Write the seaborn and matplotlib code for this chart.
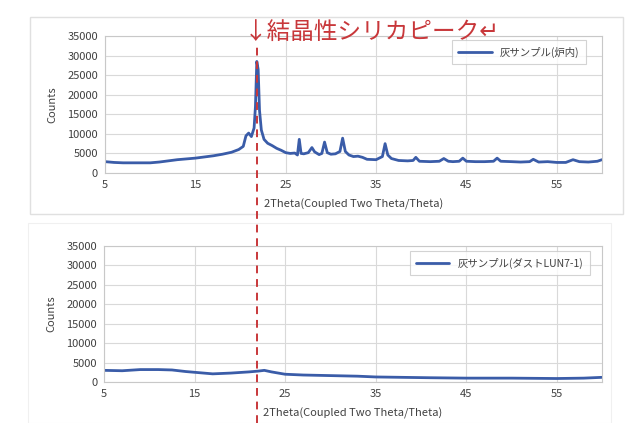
import numpy as np
import pandas as pd
import matplotlib
matplotlib.use("Agg")
import matplotlib.pyplot as plt
import matplotlib.ticker as mticker
from matplotlib.patches import Rectangle
from matplotlib.lines import Line2D
import seaborn as sns

# top pattern: ash sample (furnace inside)
top_x = [5, 6, 7, 8, 9, 10, 11, 12, 13, 14,
         15, 16, 17, 18, 19, 19.8, 20.3, 20.6, 20.9, 21.2,
         21.5, 21.65, 21.8, 21.95, 22.1, 22.3, 22.6, 23, 23.5, 24,
         24.5, 25, 25.5, 26, 26.3, 26.5, 26.7, 27, 27.5, 27.9,
         28.2, 28.7, 29.0, 29.3, 29.6, 30, 30.5, 31.0, 31.3, 31.6,
         32, 32.5, 33, 33.5, 34, 35, 35.7, 36.0, 36.3, 36.7,
         37.5, 38.5, 39.1, 39.4, 39.8, 41, 42, 42.5, 43, 43.5,
         44.2, 44.6, 45, 46, 47, 48, 48.4, 48.8, 50, 51,
         52, 52.4, 53, 54, 55, 56, 56.8, 57.5, 58.5, 59.5,
         60]
top_y = [2900, 2700, 2600, 2600, 2600, 2600, 2800, 3100, 3400, 3600,
         3800, 4100, 4400, 4800, 5300, 6000, 6800, 9500, 10200, 9300,
         11500, 17000, 28500, 26500, 16000, 11000, 8600, 7600, 7000, 6300,
         5800, 5200, 5000, 5100, 4600, 8600, 5000, 4900, 5200, 6500,
         5400, 4700, 5000, 7900, 5200, 4800, 4900, 5500, 8900, 5500,
         4600, 4200, 4300, 4000, 3500, 3400, 4200, 7500, 4600, 3700,
         3200, 3100, 3200, 4000, 3000, 2900, 3000, 3700, 3000, 2900,
         3000, 3800, 3000, 2900, 2900, 3000, 3800, 3000, 2900, 2800,
         2900, 3500, 2800, 2900, 2700, 2700, 3400, 2900, 2800, 3000,
         3400]

# bottom pattern: ash sample (dust LUN7-1)
bot_x = [5, 7, 9, 11, 12.5, 14, 15.5, 17, 19, 21,
         22, 22.7, 23.5, 25, 27, 29, 31, 33, 35, 38,
         41, 45, 50, 55, 58, 60]
bot_y = [3000, 2900, 3200, 3200, 3100, 2700, 2400, 2100, 2300, 2600,
         2800, 3000, 2600, 2000, 1800, 1700, 1600, 1500, 1300, 1200,
         1100, 1000, 1000, 900, 1000, 1200]

top_label = "灰サンプル(炉内)"
bot_label = "灰サンプル(ダストLUN7-1)"
x_ticks = [5, 15, 25, 35, 45, 55]
y_ticks = [0, 5000, 10000, 15000, 20000, 25000, 30000, 35000]
silica_x = 21.8
note = "↓結晶性シリカピーク↵"

LINE = "#3a5ca8"
RED = "#c8373a"
GRID = "#d9d9d9"
TXT = "#404040"

sns.set_style("white")
plt.rcParams["font.family"] = ["Noto Sans CJK JP", "DejaVu Sans"]

fig = plt.figure(figsize=(6.27, 4.23), dpi=100)

# excel-like chart area frames
fig.patches.append(Rectangle((0.048, 0.494), 0.946, 0.466, transform=fig.transFigure,
                             fill=False, edgecolor="#e0e0e0", linewidth=1.0))
fig.patches.append(Rectangle((0.045, 0.0), 0.93, 0.473, transform=fig.transFigure,
                             fill=False, edgecolor="#f0f0f0", linewidth=0.8))

ax1 = fig.add_axes([0.1675, 0.591, 0.7925, 0.3239])
ax2 = fig.add_axes([0.166, 0.0969, 0.794, 0.3215])

top_df = pd.DataFrame({"theta": top_x, "counts": top_y})
bot_df = pd.DataFrame({"theta": bot_x, "counts": bot_y})

for ax, df, lab in [(ax1, top_df, top_label), (ax2, bot_df, bot_label)]:
    sns.lineplot(data=df, x="theta", y="counts", ax=ax, color=LINE,
                 linewidth=2.0, label=lab)
    ax.set_xlim(5, 60)
    ax.set_ylim(0, 35000)
    ax.set_xticks(x_ticks)
    ax.set_yticks(y_ticks)
    ax.grid(True, color=GRID, linewidth=0.8)
    ax.set_axisbelow(True)
    for s in ax.spines.values():
        s.set_color("#c8c8c8")
        s.set_linewidth(0.8)
    ax.tick_params(length=0, labelsize=8, colors=TXT, pad=5)
    ax.set_xlabel("2Theta(Coupled Two Theta/Theta)", fontsize=8, color=TXT, labelpad=6)
    ax.set_ylabel("Counts", fontsize=8, color=TXT, labelpad=7)
    ax.yaxis.set_major_formatter(mticker.FormatStrFormatter("%d"))

leg1 = ax1.legend(loc="upper right", bbox_to_anchor=(0.978, 1.007), fontsize=7.5,
                  frameon=True, fancybox=False, edgecolor="#c8c8c8",
                  handlelength=3.2, borderpad=0.6, labelcolor=TXT)
leg2 = ax2.legend(loc="upper right", bbox_to_anchor=(0.986, 1.0), fontsize=7.5,
                  frameon=True, fancybox=False, edgecolor="#c8c8c8",
                  handlelength=3.2, borderpad=0.6, labelcolor=TXT)
for lg in (leg1, leg2):
    lg.get_frame().set_linewidth(0.8)

# red dashed marker across both panels at the silica peak
fig.canvas.draw()
px = ax1.transData.transform((silica_x, 0))[0]
fx = fig.transFigure.inverted().transform((px, 0))[0]
fig.lines.append(Line2D([fx, fx], [0.0, 0.895], transform=fig.transFigure,
                        color=RED, linewidth=1.4, linestyle=(0, (4, 3))))
fig.text(fx - 0.021, 0.924, note, color=RED, fontsize=17, ha="left", va="center")

fig.savefig("out.png", dpi=100)
